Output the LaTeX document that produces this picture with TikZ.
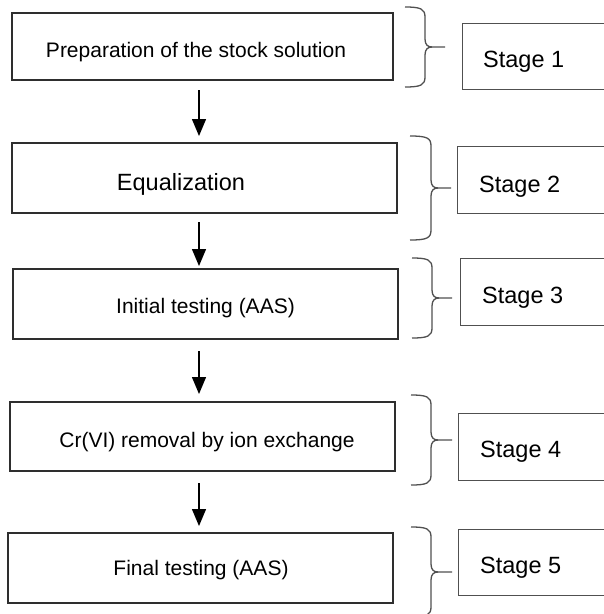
\documentclass[tikz,border=0pt]{standalone}
\usepackage{fontspec}
\setmainfont{Liberation Sans}
\usetikzlibrary{arrows.meta}
\definecolor{boxline}{HTML}{2E2E2E}
\definecolor{thinline}{HTML}{505050}
\newcommand{\placetext}[3]{\makebox[0pt]{\hspace*{#1}\raisebox{#2}[0pt][0pt]{#3}}}
% brace: xl, top, xv, tip, mid, bottom
\newcommand{\stagebrace}[6]{%
  \draw[bracestyle] (#1,#2) .. controls (#3-4,#2) and (#3,#2+2) .. (#3,#2+10)
    -- (#3,#5-8) .. controls (#3,#5-2) and (#3+3,#5) .. (#3+7,#5) -- (#4,#5);
  \draw[bracestyle] (#3+7,#5) .. controls (#3+3,#5) and (#3,#5+2) .. (#3,#5+8)
    -- (#3,#6-10) .. controls (#3,#6-2) and (#3-4,#6) .. (#1,#6);}
\begin{document}
\begin{tikzpicture}[x=1pt,y=-1pt,
  procbox/.style={draw=boxline, line width=2pt, rectangle, inner sep=0pt,
    minimum width=385pt, minimum height=70pt,
    font=\fontsize{21pt}{25pt}\selectfont},
  stagebox/.style={draw=thinline, line width=1.3pt, rectangle, inner sep=0pt,
    anchor=north west, minimum width=200pt, minimum height=67pt},
  stagetext/.style={anchor=base west, inner sep=0pt,
    font=\fontsize{23.5pt}{28pt}\selectfont},
  bracestyle/.style={draw=thinline, line width=1.3pt},
  flow/.style={draw=black, line width=1.3pt,
    -{Triangle[length=17pt,width=14pt]}}]
\useasboundingbox[fill=white] (0,0) rectangle (604,614);

% process boxes
\node[procbox, minimum width=381pt, minimum height=67pt] (b1) at (202.5,46.5)
  {\placetext{-13pt}{-10.5pt}{Preparation of the stock solution}};
\node[procbox, font=\fontsize{23.5pt}{28pt}\selectfont] (b2) at (204.5,178)
  {\placetext{-47pt}{-12pt}{Equalization}};
\node[procbox] (b3) at (205.5,304)
  {\placetext{0pt}{-9pt}{Initial testing (AAS)}};
\node[procbox, minimum height=69pt] (b4) at (202.5,436.5)
  {\placetext{9pt}{-10.5pt}{Cr(VI) removal by ion exchange}};
\node[procbox] (b5) at (200.5,568)
  {\placetext{1pt}{-7pt}{Final testing (AAS)}};

% arrows
\coordinate (ax) at (199,0);
\draw[flow] ([yshift=-9pt]b1.south -| ax) -- ([yshift=6pt]b2.north -| ax);
\draw[flow] ([yshift=-8pt]b2.south -| ax) -- ([yshift=2pt]b3.north -| ax);
\draw[flow] ([yshift=-11pt]b3.south -| ax) -- ([yshift=7pt]b4.north -| ax);
\draw[flow] ([yshift=-11pt]b4.south -| ax) -- ([yshift=6pt]b5.north -| ax);

% stage boxes
\node[stagebox, minimum height=66pt] (s1) at (462,23) {};
\node[stagebox] (s2) at (457,146) {};
\node[stagebox] (s3) at (460,258) {};
\node[stagebox] (s4) at (458,413) {};
\node[stagebox, minimum height=66pt] (s5) at (458,529) {};
\node[stagetext] (t1) at (483,67) {Stage 1};
\node[stagetext] (t2) at (479,192) {Stage 2};
\node[stagetext] (t3) at (482,303) {Stage 3};
\node[stagetext] (t4) at (480,457) {Stage 4};
\node[stagetext] (t5) at (480,573) {Stage 5};

% braces
\stagebrace{405}{7}{425}{445}{47}{87}
\stagebrace{410}{136}{431}{451}{188}{240}
\stagebrace{412}{258}{432}{452}{298}{338}
\stagebrace{411}{395}{431}{452}{440}{485}
\stagebrace{411}{527}{431}{452}{572}{617}
\end{tikzpicture}
\end{document}
